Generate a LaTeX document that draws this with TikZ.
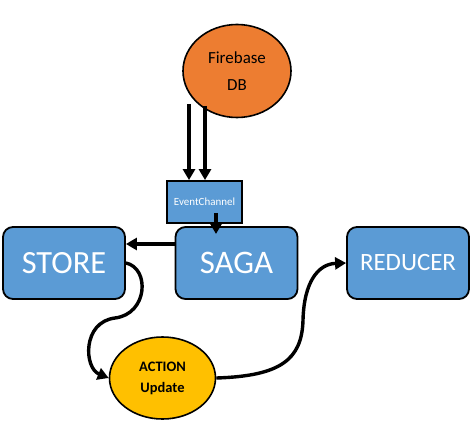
\documentclass[tikz,border=0pt]{standalone}
\usepackage{fontspec}
\setmainfont{Carlito}
\usetikzlibrary{arrows.meta,shapes.geometric}
\definecolor{boxblue}{HTML}{5B9BD5}
\definecolor{dborange}{HTML}{ED7D31}
\definecolor{actgold}{HTML}{FFC000}
\tikzset{
	block/.style={draw=black, line width=1.8bp, fill=boxblue, rounded corners=10bp, minimum width=122bp, minimum height=72bp, text=white},
	flow/.style={line width=3.4bp, -{Triangle[length=11bp,width=12bp]}}
}

\begin{document}
\begin{tikzpicture}[x=1bp, y=-1bp]
		%%%%% START %%%%%
		
		\useasboundingbox (0, 0) rectangle (472, 443);
		
		\node[ellipse, draw=black, line width=1.6bp, fill=dborange, minimum width=108bp, minimum height=93bp, align=center, font=\fontsize{17}{27}\selectfont] (db) at (237, 71) {Firebase\\DB};
		
		\node[draw=black, line width=1.8bp, fill=boxblue, minimum width=75bp, minimum height=42bp, text=white, font=\fontsize{11}{12}\selectfont] (chan) at (204.5, 202) {EventChannel};
		
		\node[block, font=\fontsize{32.5}{34}\selectfont] (store) at (64, 263) {STORE};
		\node[block, font=\fontsize{33}{34}\selectfont] (saga) at (236.5, 263) {SAGA};
		\node[block, font=\fontsize{25}{27}\selectfont] (reducer) at (408, 263) {REDUCER};
		
		\node[ellipse, draw=black, line width=1.6bp, fill=actgold, minimum width=106bp, minimum height=82bp, align=center, font=\bfseries\fontsize{14.5}{21}\selectfont] (action) at (162.5, 378) {ACTION\\Update};
		
		\coordinate (db1) at (189, 104);
		\coordinate (db2) at (205, 106);
		\coordinate (chanout) at (216, 213);
		\coordinate (sagatop) at (216, 234);
		\coordinate (sagaleft) at (175, 244);
		\draw[flow] (db1) -- (db1 |- chan.north);
		\draw[flow] (db2) -- (db2 |- chan.north);
		\draw[flow] (chanout) -- (sagatop);
		
		\draw[flow] (sagaleft) -- (sagaleft -| store.east);
		
		\draw[flow] (store.east) .. controls (150, 268) and (148, 314) .. (115, 318)
			.. controls (82, 322) and (84, 368) .. (action.west);
		\draw[flow] (action.east) .. controls (280, 376) and (302, 360) .. (303, 320)
			.. controls (304, 282) and (318, 264) .. (reducer.west);
		
		%%%%% END %%%%%
\end{tikzpicture}
\end{document}
